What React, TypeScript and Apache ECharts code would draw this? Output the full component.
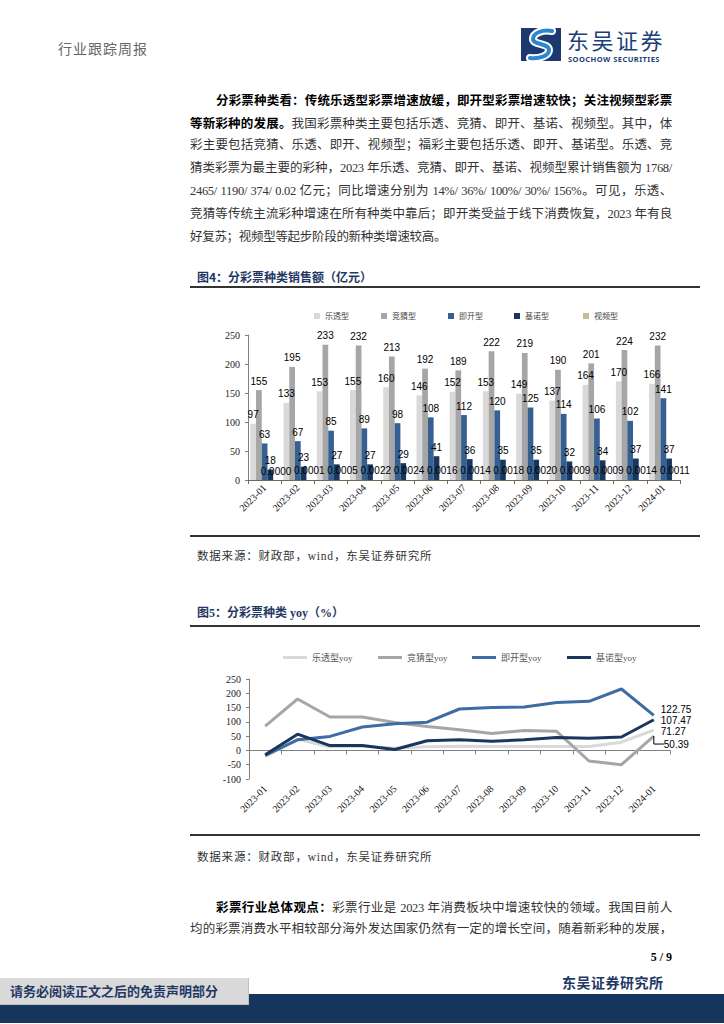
import React, { useEffect, useRef } from "react";
import * as echarts from "echarts";

// ---------- data ----------
const months = ["2023-01", "2023-02", "2023-03", "2023-04", "2023-05", "2023-06", "2023-07", "2023-08", "2023-09", "2023-10", "2023-11", "2023-12", "2024-01"];

const salesNames = ["乐透型", "竞猜型", "即开型", "基诺型", "视频型"];
const letouSales = [97, 133, 153, 155, 160, 146, 152, 153, 149, 137, 164, 170, 166];
const jingcaiSales = [155, 195, 233, 232, 213, 192, 189, 222, 219, 190, 201, 224, 232];
const jikaiSales = [63, 67, 85, 89, 98, 108, 112, 120, 125, 114, 106, 102, 141];
const jinuoSales = [18, 23, 27, 27, 29, 41, 36, 35, 35, 32, 34, 37, 37];
const shipinSales = [0.0, 0.0001, 0.0005, 0.0022, 0.0024, 0.0016, 0.0014, 0.0018, 0.002, 0.0009, 0.0009, 0.0014, 0.0011];
const salesAxis = { min: 0, max: 250, interval: 50 };

const yoyNames = ["乐透型yoy", "竞猜型yoy", "即开型yoy", "基诺型yoy"];
const letouYoy = [-22, 40, 12, 15, 8, 13, 15, 14, 14, 14, 14, 29, 71.27];
const jingcaiYoy = [85, 180, 117, 117, 98, 84, 72, 59, 70, 67, -37, -50, 50.39];
const jikaiYoy = [-17, 37, 49, 82, 93, 99, 145, 150, 152, 168, 172, 215, 122.75];
const jinuoYoy = [-15, 57, 17, 17, 3, 34, 37, 32, 37, 45, 43, 47, 107.47];
const yoyAxis = { min: -100, max: 250, interval: 50 };

// ---------- styles ----------
const CJK = '"Noto Sans CJK SC", sans-serif';
const SERIF = '"Liberation Serif", "Noto Sans CJK SC", serif';
const SANS = '"Liberation Sans", Arial, sans-serif';
const NAVY = "#1f3864";

function EChart({ option, style }: { option: any; style: React.CSSProperties }) {
  const ref = useRef<HTMLDivElement>(null);
  useEffect(() => {
    const chart = echarts.init(ref.current as HTMLDivElement, null, { renderer: "svg" });
    chart.setOption(option);
    return () => chart.dispose();
  }, []);
  return <div ref={ref} style={style} />;
}

const barColors = ["#d9d9d9", "#a6a6a6", "#376092", "#17375e", "#c4bd97"];
const salesSeries = [letouSales, jingcaiSales, jikaiSales, jinuoSales, shipinSales];
const legend1X = [119, 186, 253, 319, 388];

const option1 = {
  animation: false,
  legend: salesNames.map((n, i) => ({
    data: [n],
    left: legend1X[i],
    top: 12,
    icon: "rect",
    itemWidth: 6,
    itemHeight: 6,
    textStyle: { fontSize: 8, color: "#444", fontFamily: CJK },
  })),
  grid: { left: 58, right: 20, top: 40, bottom: 55 },
  xAxis: {
    type: "category",
    data: months,
    axisLine: { lineStyle: { color: "#6f6a55", width: 1 } },
    axisTick: { show: true, length: 4, lineStyle: { color: "#6f6a55" } },
    axisLabel: { rotate: 45, interval: 0, fontSize: 10, fontFamily: SERIF, color: "#111", margin: 6 },
  },
  yAxis: {
    type: "value",
    min: salesAxis.min,
    max: salesAxis.max,
    interval: salesAxis.interval,
    splitLine: { show: false },
    axisLine: { show: true, lineStyle: { color: "#808080" } },
    axisTick: { show: true, length: 3, lineStyle: { color: "#808080" } },
    axisLabel: { fontSize: 10, fontFamily: SERIF, color: "#222", margin: 8 },
  },
  series: salesSeries.map((d, i) => ({
    name: salesNames[i],
    type: "bar",
    data: d,
    barGap: "0%",
    barCategoryGap: "14%",
    itemStyle: { color: barColors[i] },
    label: {
      show: true,
      position: "top",
      distance: 4,
      fontSize: 10,
      fontFamily: SANS,
      color: "#000",
      formatter: i === 4 ? (p: any) => Number(p.value).toFixed(4) : "{c}",
    },
  })),
};

const lineColors = ["#d9d9d9", "#a6a6a6", "#3e6ca3", "#1b365d"];
const yoySeries = [letouYoy, jingcaiYoy, jikaiYoy, jinuoYoy];
const endOffsets = [[0, 1], [0, 0], [0, -6], [0, 1]];
const legend2X = [88, 183, 277, 372];

const option2 = {
  animation: false,
  legend: yoyNames.map((n, i) => ({
    data: [n],
    left: legend2X[i],
    top: 8,
    icon: "rect",
    itemWidth: 24,
    itemHeight: 3,
    textStyle: { fontSize: 9, color: "#555", fontFamily: SERIF },
  })),
  grid: { left: 59, right: 30, top: 39, bottom: 51 },
  xAxis: [
    {
      type: "category",
      data: months,
      position: "bottom",
      axisLine: { show: false, onZero: false },
      axisTick: { show: false },
      axisLabel: { rotate: 45, interval: 0, fontSize: 10, fontFamily: SERIF, color: "#111", margin: 8 },
    },
    {
      type: "category",
      data: months,
      position: "bottom",
      axisLine: { show: true, onZero: true, lineStyle: { color: "#808080" } },
      axisTick: { show: true, interval: 0, length: 4, lineStyle: { color: "#808080" } },
      axisLabel: { show: false },
    },
  ],
  yAxis: {
    type: "value",
    min: yoyAxis.min,
    max: yoyAxis.max,
    interval: yoyAxis.interval,
    splitLine: { show: false },
    axisLine: { show: true, lineStyle: { color: "#808080" } },
    axisTick: { show: true, length: 3, lineStyle: { color: "#808080" } },
    axisLabel: { fontSize: 10, fontFamily: SERIF, color: "#222", margin: 8 },
  },
  series: yoySeries.map((vals, i) => ({
    name: yoyNames[i],
    type: "line",
    xAxisIndex: 0,
    symbol: "none",
    lineStyle: { width: 3, color: lineColors[i] },
    itemStyle: { color: lineColors[i] },
    labelLayout: i === 1 ? { dx: 10, dy: 8 } : undefined,
    data: vals.map((v, j) =>
      j === vals.length - 1
        ? {
            value: v,
            symbol: "circle",
            symbolSize: 0.01,
            label: {
              show: true,
              position: "right",
              distance: i === 1 ? 0 : 7,
              offset: endOffsets[i],
              fontSize: 10,
              fontFamily: SANS,
              color: "#000",
              formatter: (p: any) => Number(p.value).toFixed(2),
            },
            labelLine:
              i === 1 ? { show: true, length2: 10, smooth: false, minTurnAngle: 0, lineStyle: { color: "#000", width: 1 } } : undefined,
          }
        : v
    ),
  })),
};

// ---------- page pieces ----------
function Abs({ left, cy, h = 20, style, children }: any) {
  return (
    <div
      style={{
        position: "absolute",
        left,
        top: cy - h / 2,
        height: h,
        lineHeight: h + "px",
        whiteSpace: "nowrap",
        ...style,
      }}
    >
      {children}
    </div>
  );
}

type Line = { indent: boolean; bold?: string; text: string; justify: boolean };

const para1: Line[] = [
  { indent: true, bold: "分彩票种类看：传统乐透型彩票增速放缓，即开型彩票增速较快；关注视频型彩票", text: "", justify: true },
  { indent: false, bold: "等新彩种的发展。", text: "我国彩票种类主要包括乐透、竞猜、即开、基诺、视频型。其中，体", justify: true },
  { indent: false, text: "彩主要包括竞猜、乐透、即开、视频型；福彩主要包括乐透、即开、基诺型。乐透、竞", justify: true },
  { indent: false, text: "猜类彩票为最主要的彩种，2023 年乐透、竞猜、即开、基诺、视频型累计销售额为 1768/", justify: true },
  { indent: false, text: "2465/ 1190/ 374/ 0.02 亿元；同比增速分别为 14%/ 36%/ 100%/ 30%/ 156%。可见，乐透、", justify: true },
  { indent: false, text: "竞猜等传统主流彩种增速在所有种类中靠后；即开类受益于线下消费恢复，2023 年有良", justify: true },
  { indent: false, text: "好复苏；视频型等起步阶段的新种类增速较高。", justify: false },
];

const para2: Line[] = [
  { indent: true, bold: "彩票行业总体观点：", text: "彩票行业是 2023 年消费板块中增速较快的领域。我国目前人", justify: true },
  { indent: false, text: "均的彩票消费水平相较部分海外发达国家仍然有一定的增长空间，随着新彩种的发展，", justify: true },
];

function Paragraph({ lines, top }: { lines: Line[]; top: number }) {
  return (
    <>
      {lines.map((l, i) => (
        <div
          key={i}
          style={{
            position: "absolute",
            left: l.indent ? 216 : 190,
            width: l.indent ? 456 : 482,
            top: top + i * 23 - 11.5,
            height: 23,
            lineHeight: "23px",
            fontSize: 12.5,
            letterSpacing: "-0.3px",
            fontFamily: SERIF,
            color: "#333",
            whiteSpace: "nowrap",
            textAlign: l.justify ? "justify" : "left",
            textAlignLast: l.justify ? "justify" : "left",
          } as React.CSSProperties}
        >
          {l.bold ? <b style={{ color: "#000", fontFamily: CJK }}>{l.bold}</b> : null}
          {l.text}
        </div>
      ))}
    </>
  );
}

function Rule({ y }: { y: number }) {
  return <div style={{ position: "absolute", left: 190, width: 510, top: y - 1, height: 1.5, background: "#333" }} />;
}

function Logo() {
  return (
    <svg style={{ position: "absolute", left: 521, top: 28 }} width="40" height="33" viewBox="0 0 40 33">
      <rect x="0" y="0" width="40" height="33" fill="#1c3a70" />
      <path d="M31 3 C22 1 12 5 12 11 C12 17 28 15 28 22 C28 28 18 31 9 30" fill="none" stroke="#ffffff" strokeWidth="8" strokeLinecap="round" />
      <path d="M31 3 C22 1 12 5 12 11 C12 17 28 15 28 22 C28 28 18 31 9 30" fill="none" stroke="#2f86d0" strokeWidth="4" strokeLinecap="round" />
    </svg>
  );
}

export default function App() {
  return (
    <div style={{ position: "absolute", left: 0, top: 0, width: 724, height: 1024, background: "#fff", overflow: "hidden" }}>
      {/* header */}
      <Abs left={58} cy={48} style={{ fontSize: 14, letterSpacing: "1px", color: "#666", fontFamily: CJK }}>
        行业跟踪周报
      </Abs>
      <Logo />
      <Abs left={567} cy={39} h={22} style={{ fontSize: 22, letterSpacing: "2.5px", color: "#1c3f77", fontFamily: CJK }}>
        东吴证券
      </Abs>
      <Abs left={568} cy={58.5} h={8} style={{ fontSize: 7.5, fontWeight: 700, letterSpacing: "0.45px", color: "#1c3f77", fontFamily: '"Noto Sans", sans-serif' }}>
        SOOCHOW SECURITIES
      </Abs>

      <Paragraph lines={para1} top={99} />

      {/* figure 4 */}
      <Abs left={197} cy={277} style={{ fontSize: 12, fontWeight: 700, color: NAVY, fontFamily: CJK }}>
        图4：分彩票种类销售额（亿元）
      </Abs>
      <Rule y={287} />
      <EChart option={option1} style={{ position: "absolute", left: 190, top: 295, width: 510, height: 240 }} />
      <Rule y={536} />
      <Abs left={197} cy={556} style={{ fontSize: 11.5, letterSpacing: "0.8px", color: "#333", fontFamily: SERIF }}>
        数据来源：财政部，wind，东吴证券研究所
      </Abs>

      {/* figure 5 */}
      <Abs left={197} cy={613} style={{ fontSize: 12, fontWeight: 700, color: NAVY, fontFamily: SERIF }}>
        图5：分彩票种类 yoy（%）
      </Abs>
      <Rule y={626} />
      <EChart option={option2} style={{ position: "absolute", left: 190, top: 640, width: 510, height: 190 }} />
      <Rule y={835} />
      <Abs left={197} cy={857} style={{ fontSize: 11.5, letterSpacing: "0.8px", color: "#333", fontFamily: SERIF }}>
        数据来源：财政部，wind，东吴证券研究所
      </Abs>

      <Paragraph lines={para2} top={906} />

      {/* page footer */}
      <Abs left={630} cy={957} style={{ width: 42, textAlign: "right", fontSize: 12, fontWeight: 700, color: "#000", fontFamily: SERIF }}>
        5 / 9
      </Abs>
      <Abs left={562} cy={982} style={{ fontSize: 14, fontWeight: 700, letterSpacing: "0.5px", color: NAVY, fontFamily: CJK }}>
        东吴证券研究所
      </Abs>
      <div style={{ position: "absolute", left: 0, top: 994, width: 724, height: 29, background: "#17365d" }} />
      <div style={{ position: "absolute", left: 0, top: 978, width: 248, height: 26, background: "#d9d9d9", borderRight: "1px solid #bfbfbf", borderBottom: "1px solid #bfbfbf" }} />
      <Abs left={10} cy={991} style={{ fontSize: 13, fontWeight: 700, color: NAVY, fontFamily: CJK }}>
        请务必阅读正文之后的免责声明部分
      </Abs>
    </div>
  );
}
